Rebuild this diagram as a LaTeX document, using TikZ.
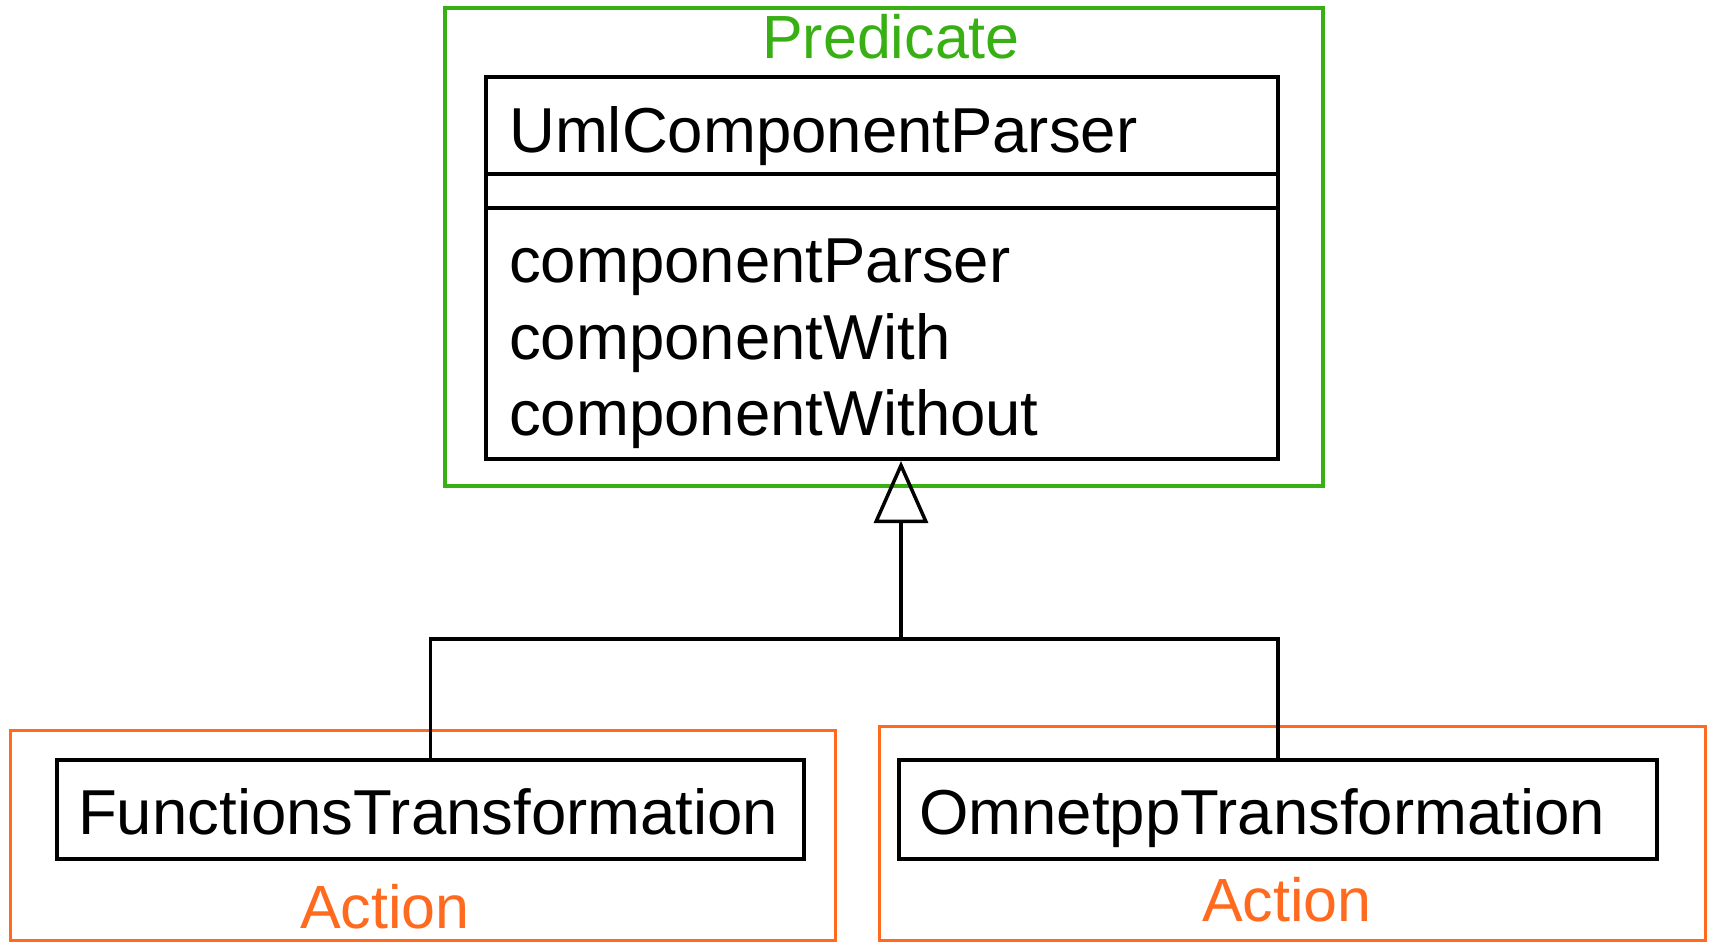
\documentclass[tikz,border=0pt]{standalone}
\usepackage{fontspec}
\setmainfont{Liberation Sans}
\usetikzlibrary{arrows.meta}
\definecolor{predgreen}{RGB}{56,176,20}
\definecolor{actorange}{RGB}{255,106,30}
\tikzset{
  classbox/.style={draw=black, line width=4pt, fill=white, inner sep=0pt},
  greenframe/.style={draw=predgreen, line width=4pt, inner sep=0pt},
  orangeframe/.style={draw=actorange, line width=3pt, inner sep=0pt},
  classtext/.style={inner sep=0pt, anchor=base west, font=\fontsize{63.5}{70}\selectfont},
  labeltext/.style={inner sep=0pt, anchor=base, font=\fontsize{61}{68}\selectfont},
  conn/.style={draw=black, line width=3.5pt},
  general/.style={conn, -{Triangle[open, length=62pt, width=54pt, line width=3.5pt]}}
}
\begin{document}
\begin{tikzpicture}[x=1pt,y=-1pt]
\useasboundingbox (0,0) rectangle (1710,943);

% Predicate group
\node[greenframe, minimum width=878pt, minimum height=478pt] (pred) at (884,247) {};
\node[labeltext, text=predgreen] (predlbl) at (891,58) {Predicate};

% UML class with its compartments
\node[classbox, minimum width=792pt, minimum height=382pt] (ucp) at (882,268) {};
\draw[black, line width=4pt] (ucp.west |- 0,174) coordinate (d1w) -- (ucp.east |- 0,174) coordinate (d1e);
\draw[black, line width=4pt] (ucp.west |- 0,208) coordinate (d2w) -- (ucp.east |- 0,208) coordinate (d2e);
\node[classtext] (cname) at (509,152) {UmlComponentParser};
\node[classtext] (op1) at (509,282) {componentParser};
\node[classtext] (op2) at (509,359) {componentWith};
\node[classtext] (op3) at (509,435) {componentWithout};

% Action groups
\node[orangeframe, minimum width=825pt, minimum height=210pt] (actL) at (422.5,835) {};
\node[orangeframe, minimum width=826pt, minimum height=214pt] (actR) at (1292,833) {};
\node[labeltext, text=actorange] (actLlbl) at (385,928) {Action};
\node[labeltext, text=actorange] (actRlbl) at (1287,921) {Action};

% Subclasses
\node[classbox, minimum width=747pt, minimum height=99pt] (ft) at (430.5,809.5) {};
\node[classbox, minimum width=758pt, minimum height=99pt] (ot) at (1278,809.5) {};
\node[classtext] (ftname) at (78,834) {FunctionsTransformation};
\node[classtext] (otname) at (919,834) {OmnetppTransformation};

% Generalization tree
\coordinate (hub) at (901,639);
\coordinate (tip) at (hub |- ucp.south);
\draw[conn] (ft.north) |- (hub);
\draw[conn] (ot.north) |- (hub);
\draw[general] (hub) -- (tip);
\end{tikzpicture}
\end{document}
